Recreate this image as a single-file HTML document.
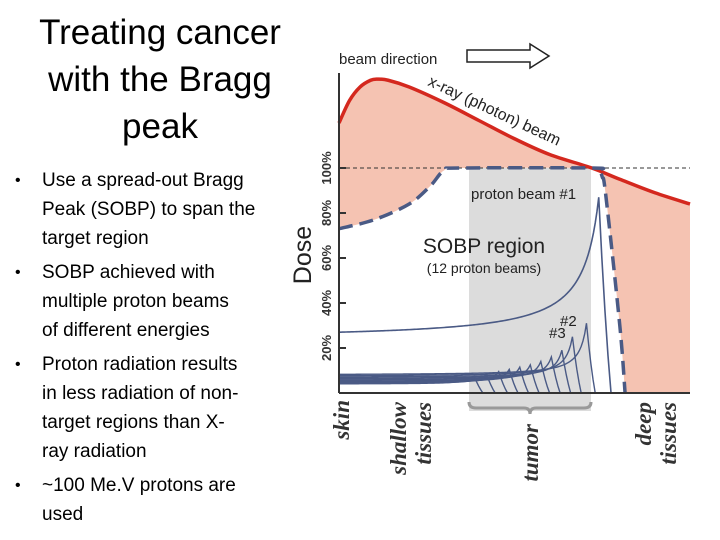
<!DOCTYPE html>
<html><head><meta charset="utf-8">
<style>
html,body{margin:0;padding:0;background:#fff;}
#wrap{position:relative;width:720px;height:540px;overflow:hidden;font-family:"Liberation Sans",sans-serif;}
#title{position:absolute;left:10px;width:300px;top:9px;text-align:center;font-size:35px;line-height:47px;color:#000;}
#bullets{position:absolute;left:0;top:166px;font-size:19px;line-height:29px;color:#000;}
.b{position:relative;padding-left:42px;margin-bottom:5px;white-space:nowrap;}
.b:before{content:"•";position:absolute;left:15px;font-size:16px;}
</style></head><body>
<div id="wrap">
<div id="title">Treating cancer<br>with the Bragg<br>peak</div>
<div id="bullets">
<div class="b">Use a spread-out Bragg<br>Peak (SOBP) to span the<br>target region</div>
<div class="b">SOBP achieved with<br>multiple proton beams<br>of different energies</div>
<div class="b">Proton radiation results<br>in less radiation of non-<br>target regions than X-<br>ray radiation</div>
<div class="b">~100 Me.V protons are<br>used</div>
</div>
<svg id="chart" width="720" height="540" style="position:absolute;left:0;top:0"></svg>
</div>
<script>
// depth units: 0 = skin (axis), 100 = right edge
const xrayDepth = [0, 3, 6, 9, 11, 14, 20, 30, 40, 50, 60, 72, 80, 90, 100];
const xrayDose  = [120, 130, 136, 139, 139.5, 139, 136, 129, 121, 113, 106, 100, 95, 89, 84];
const sobpDepth = [0, 10, 20, 26, 30, 35, 72, 74, 75, 76, 80, 81.5];
const sobpDose  = [73, 77, 84, 92, 99, 100, 100, 99, 96, 88, 30, 0];
const beamPeakDepth = [74, 70.5, 66.5, 63.5, 60.5, 57.5, 54.5, 51.5, 48.5, 45.5, 42, 38.5];
const beamPeakDose  = [87, 31, 25, 19, 16, 14, 12.5, 11.5, 10.5, 9.5, 8.5, 7.5];
const beamEntrance  = [24, 8, 7.5, 7, 6.5, 6, 5.5, 5, 4.8, 4.5, 4.2, 4];
const yTicks = [20, 40, 60, 80, 100];

const X0=339, X1=690, Y0=393, YS=2.25;
const sx = d => X0 + d*(X1-X0)/100;
const sy = v => Y0 - v*YS;
const NS="http://www.w3.org/2000/svg";
const svg=document.getElementById('chart');
function mk(tag, attrs, parent){const e=document.createElementNS(NS,tag);for(const k in attrs)e.setAttribute(k,attrs[k]);(parent||svg).appendChild(e);return e;}
function smooth(xs, ys){
  const p=xs.map((x,i)=>[sx(x),sy(ys[i])]);
  let d=`M${p[0][0]},${p[0][1]}`;
  for(let i=0;i<p.length-1;i++){
    const p0=p[Math.max(0,i-1)],p1=p[i],p2=p[i+1],p3=p[Math.min(p.length-1,i+2)];
    d+=` C${p1[0]+(p2[0]-p0[0])/6},${p1[1]+(p2[1]-p0[1])/6} ${p2[0]-(p3[0]-p1[0])/6},${p2[1]-(p3[1]-p1[1])/6} ${p2[0]},${p2[1]}`;
  }
  return d;
}
const xrayPath=smooth(xrayDepth,xrayDose);
let e=mk('path',{d:xrayPath+` L${sx(100)},${Y0} L${X0},${Y0} Z`,fill:'#f5c3b2'});

const sobpPath=smooth(sobpDepth,sobpDose);
e=mk('path',{d:sobpPath+` L${X0},${Y0} Z`,fill:'#fff'});

e=mk('rect',{x:469,y:sy(100),width:122,height:Y0+18-sy(100),fill:'#dcdcdc'});

e=mk('path',{d:'M469,402 Q469,408 476,408 L524,408 Q530,408 530,414 Q530,408 536,408 L584,408 Q591,408 591,402',fill:'none',stroke:'#999','stroke-width':3});

e=mk('line',{x1:X0,x2:X1,y1:sy(100),y2:sy(100),stroke:'#333','stroke-width':1,'stroke-dasharray':'4,3'});

beamPeakDepth.forEach((R,i)=>{
  const p=beamPeakDose[i], en=beamEntrance[i], w=i==0?5:2.6, ex=i==0?1.1:1.3;
  let d='';
  for(let x=0;x<=R;x+=0.5){const v=en+(p-en)*Math.pow(w/(R-x+w),ex);d+=(d?' L':'M')+sx(x)+','+sy(v);}
  const fall=i==0?3.5:2.5;
  for(let t=0.25;t<=1.001;t+=0.25){const v=p*(1-t)*(1-t*0.3);d+=` L${sx(R+fall*t)},${sy(v)}`;}
  const el=mk('path',{d:d,fill:'none',stroke:'#4a5a85','stroke-width':i==0?1.6:1.4});
  
  
});
e=mk('path',{d:xrayPath,fill:'none',stroke:'#d4281e','stroke-width':3.5});

e=mk('path',{d:sobpPath,fill:'none',stroke:'#4a5a85','stroke-width':3.5,'stroke-dasharray':'14,7'});

e=mk('line',{x1:X0,x2:X0,y1:73,y2:Y0,stroke:'#333','stroke-width':2});

e=mk('line',{x1:X0,x2:X1,y1:Y0,y2:Y0,stroke:'#333','stroke-width':2});

yTicks.forEach(t=>{
  const tk=mk('line',{x1:X0,x2:X0+7,y1:sy(t),y2:sy(t),stroke:'#333','stroke-width':2});
  
  const tl=mk('text',{x:0,y:0,transform:`translate(331,${sy(t)}) rotate(-90)`,'text-anchor':'middle','font-size':13,'font-weight':'bold',fill:'#333'});
  tl.textContent=t+'%';
  
});
function txt(s,attrs,name){const t=mk('text',attrs);t.textContent=s;return t;}
txt('Dose',{transform:'translate(311,255) rotate(-90)','text-anchor':'middle','font-size':25,fill:'#222'},'y-axis-title');
txt('beam direction',{x:339,y:64,'font-size':15,fill:'#222'},'beam-direction-label');
e=mk('path',{d:'M467,50 L530,50 L530,44 L549,56 L530,68 L530,62 L467,62 Z',fill:'#fff',stroke:'#222','stroke-width':1.5});

txt('x-ray (photon) beam',{transform:'translate(427,85) rotate(25)','font-size':16,fill:'#222'},'xray-label');
txt('proton beam #1',{x:471,y:199,'font-size':15,fill:'#222'},'beam1-label');
txt('SOBP region',{x:484,y:253,'text-anchor':'middle','font-size':21,fill:'#222'},'sobp-region-label');
txt('(12 proton beams)',{x:484,y:273,'text-anchor':'middle','font-size':14,fill:'#222'},'sobp-count-label');
txt('#2',{x:560,y:326,'font-size':15,fill:'#222'},'beam2-label');
txt('#3',{x:549,y:338,'font-size':15,fill:'#222'},'beam3-label');
const lab=(s,x,y,name)=>txt(s,{transform:`translate(${x},${y}) rotate(-90)`,'text-anchor':'end','font-size':23,'font-style':'italic','font-weight':'bold','font-family':'Liberation Serif, serif',fill:'#333'},name);
lab('skin',349,400,'skin-label');
lab('shallow',406,402,'shallow-label');lab('tissues',431,402,'shallow-tissues-label');
lab('tumor',538,424,'tumor-label');
lab('deep',651,402,'deep-label');lab('tissues',676,402,'deep-tissues-label');
</script>
</body></html>
